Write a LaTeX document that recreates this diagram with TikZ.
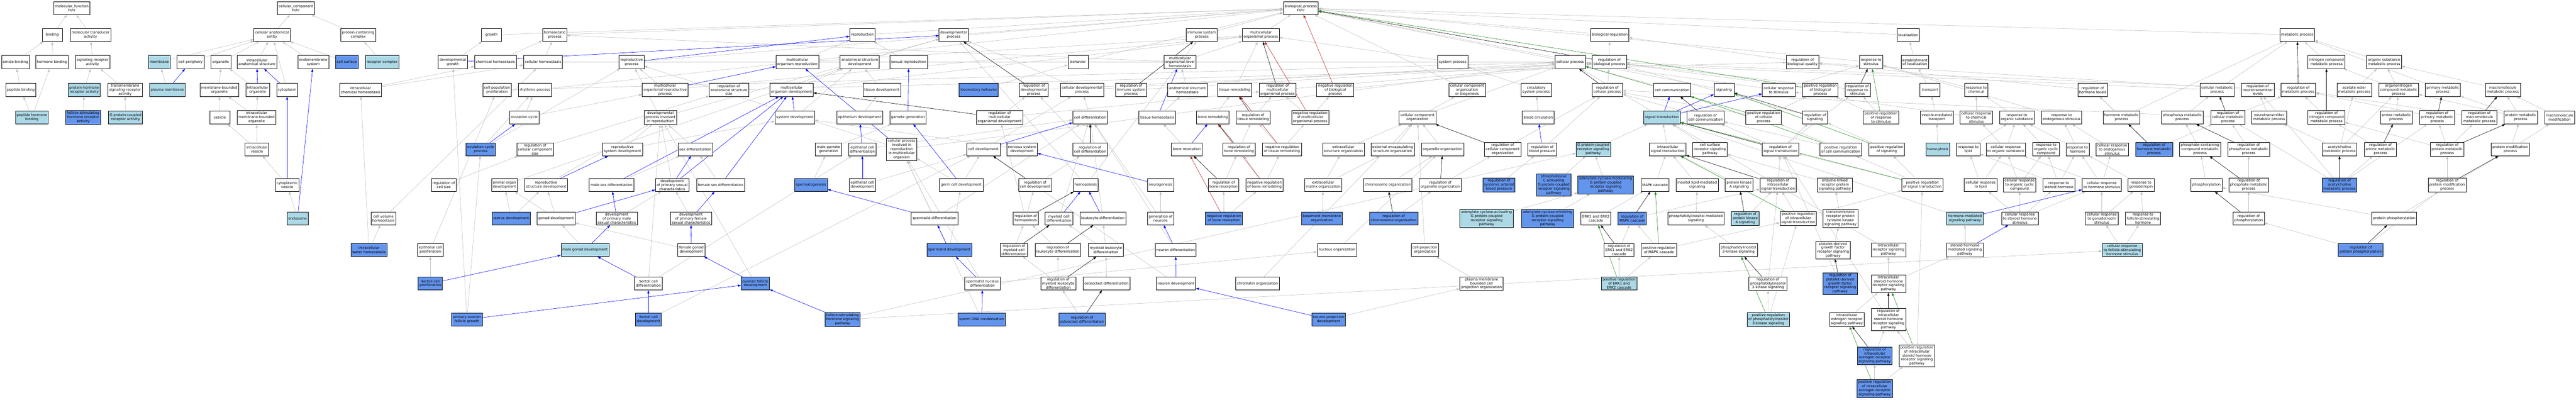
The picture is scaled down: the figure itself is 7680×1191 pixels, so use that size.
\documentclass[tikz,border=0pt]{standalone}
\usepackage{fontspec}
\setmainfont{DejaVu Sans}
\usetikzlibrary{arrows.meta,backgrounds}
\definecolor{lb}{HTML}{ADD8E6}
\definecolor{cb}{HTML}{6495ED}
\definecolor{edgegray}{HTML}{C0C0C0}
\definecolor{fgreen}{HTML}{228B22}
\definecolor{fred}{HTML}{B22222}
\newcommand{\termfont}{\fontsize{10.5bp}{12.2bp}\selectfont}

\begin{document}
\begin{tikzpicture}[x=1bp, y=-1bp, >={Triangle[length=9bp,width=6.5bp]},
	term/.style={draw, line width=1.1bp, fill=white, align=center, inner xsep=4bp, inner ysep=3bp, minimum width=60bp, minimum height=39bp, font=\termfont},
	lbterm/.style={term, fill=lb},
	cbterm/.style={term, fill=cb},
	isa/.style={draw=edgegray, line width=0.9bp, ->},
	partof/.style={draw=blue, line width=0.9bp, ->},
	reg/.style={draw=black, line width=0.9bp, ->},
	negreg/.style={draw=fred, line width=0.9bp, ->},
	posreg/.style={draw=fgreen, line width=0.9bp, ->}]
	\useasboundingbox (0,0) rectangle (7680,1191);

	\node[term] (mf) at (214,24) {molecular\_function\\Fshr};
	\node[term] (cc) at (882,24) {cellular\_component\\Fshr};
	\node[term] (bp) at (3878,24) {biological\_process\\Fshr};

	\node[term] (bind) at (156,104) {binding};
	\node[term] (mtact) at (270,104) {molecular transducer\\activity};
	\node[term] (cae) at (811,104) {cellular anatomical\\entity};
	\node[term] (pcc) at (1068,104) {protein-containing\\complex};
	\node[term] (growth) at (1465,104) {growth};
	\node[term] (homeo) at (1654,104) {homeostatic\\process};
	\node[term] (repro) at (2571,104) {reproduction};
	\node[term] (devp) at (2843,104) {developmental\\process};
	\node[term] (immsp) at (3583,104) {immune system\\process};
	\node[term] (mcop) at (3759,104) {multicellular\\organismal process};
	\node[term] (bioreg) at (4799,104) {biological regulation};
	\node[term] (locz) at (5689,104) {localization};
	\node[term] (metp) at (6849,104) {metabolic process};

	\node[term] (amideb) at (46,185) {amide binding};
	\node[term] (hormb) at (155,185) {hormone binding};
	\node[term] (sigrec) at (276,185) {signaling receptor\\activity};
	\node[lbterm] (memb) at (475,185) {membrane};
	\node[term] (cperi) at (568,185) {cell periphery};
	\node[term] (orgnl) at (658,185) {organelle};
	\node[term] (ias) at (766,185) {intracellular\\anatomical structure};
	\node[term] (endom) at (934,185) {endomembrane\\system};
	\node[cbterm] (csurf) at (1034,185) {cell surface};
	\node[lbterm] (reccx) at (1139,185) {receptor complex};
	\node[term] (devgr) at (1350,185) {developmental\\growth};
	\node[term] (chemh) at (1477,185) {chemical homeostasis};
	\node[term] (cellh) at (1619,185) {cellular homeostasis};
	\node[term] (reprp) at (1883,185) {reproductive\\process};
	\node[term] (mcorep) at (2377,185) {multicellular\\organism reproduction};
	\node[term] (asdev) at (2563,185) {anatomical structure\\development};
	\node[term] (sexrep) at (2709,185) {sexual reproduction};
	\node[term] (behav) at (3214,185) {behavior};
	\node[term] (mcolh) at (3518,185) {multicellular\\organismal-level\\homeostasis};
	\node[term] (sysp) at (4331,185) {system process};
	\node[term] (cellp) at (4681,185) {cellular process};
	\node[term] (regbp) at (4798,185) {regulation of\\biological process};
	\node[term] (regbq) at (5374,185) {regulation of\\biological quality};
	\node[term] (resst) at (5578,185) {response to\\stimulus};
	\node[term] (estloc) at (5709,185) {establishment\\of localization};
	\node[term] (ncmp) at (6936,185) {nitrogen compound\\metabolic process};
	\node[term] (osmp) at (7108,185) {organic substance\\metabolic process};

	\node[term] (pepb) at (62,268) {peptide binding};
	\node[lbterm] (phrec) at (251,268) {protein-hormone\\receptor activity};
	\node[term] (tmsig) at (373,268) {transmembrane\\signaling receptor\\activity};
	\node[lbterm] (pmem) at (499,268) {plasma membrane};
	\node[term] (mbo) at (654,268) {membrane-bounded\\organelle};
	\node[term] (iorg) at (768,268) {intracellular\\organelle};
	\node[term] (cyto) at (856,268) {cytoplasm};
	\node[term] (icchem) at (1075,268) {intracellular\\chemical homeostasis};
	\node[term] (cpprol) at (1482,268) {cell population\\proliferation};
	\node[term] (rhyth) at (1595,268) {rhythmic process};
	\node[term] (morp) at (1983,268) {multicellular\\organismal reproductive\\process};
	\node[term] (regass) at (2173,268) {regulation of\\anatomical structure\\size};
	\node[term] (mcodev) at (2360,268) {multicellular\\organism development};
	\node[term] (tisdev) at (2629,268) {tissue development};
	\node[cbterm] (locob) at (2918,268) {locomotory behavior};
	\node[term] (regdev) at (3082,268) {regulation of\\developmental\\process};
	\node[term] (celldevp) at (3226,268) {cellular developmental\\process};
	\node[term] (regimm) at (3372,268) {regulation of\\immune system\\process};
	\node[term] (ashom) at (3540,268) {anatomical structure\\homeostasis};
	\node[term] (tisrem) at (3681,268) {tissue remodeling};
	\node[term] (regmcop) at (3809,268) {regulation of\\multicellular\\organismal process};
	\node[term] (negbp) at (3981,268) {negative regulation\\of biological\\process};
	\node[term] (ccob) at (4374,268) {cellular component\\organization\\or biogenesis};
	\node[term] (circsp) at (4580,268) {circulatory\\system process};
	\node[term] (regcp) at (4792,268) {regulation of\\cellular process};
	\node[term] (ccomm) at (4985,268) {cell communication};
	\node[term] (signl) at (5140,268) {signaling};
	\node[term] (crstim) at (5303,268) {cellular response\\to stimulus};
	\node[term] (posbp) at (5427,268) {positive regulation\\of biological\\process};
	\node[term] (regrst) at (5538,268) {regulation of\\response to\\stimulus};
	\node[term] (transp) at (5754,268) {transport};
	\node[term] (rchem) at (5892,268) {response to\\chemical};
	\node[term] (reghl) at (6239,268) {regulation of\\hormone levels};
	\node[term] (cmetp) at (6610,268) {cellular metabolic\\process};
	\node[term] (regntl) at (6731,268) {regulation of\\neurotransmitter\\levels};
	\node[term] (regmetp) at (6852,268) {regulation of\\metabolic process};
	\node[term] (aemp) at (7019,268) {acetate ester\\metabolic process};
	\node[term] (oncmp) at (7151,268) {organonitrogen\\compound metabolic\\process};
	\node[term] (pmetp) at (7283,268) {primary metabolic\\process};
	\node[term] (mmetp) at (7462,268) {macromolecule\\metabolic process};

	\node[lbterm] (phb) at (95,350) {peptide hormone\\binding};
	\node[cbterm] (fshra) at (248,350) {follicle-stimulating\\hormone receptor\\activity};
	\node[lbterm] (gpcra) at (374,350) {G protein-coupled\\receptor activity};
	\node[term] (vesic) at (655,350) {vesicle};
	\node[term] (imbo) at (765,350) {intracellular\\membrane-bounded\\organelle};
	\node[term] (ovcyc) at (1563,350) {ovulation cycle};
	\node[term] (dpir) at (1969,350) {developmental\\process involved\\in reproduction};
	\node[term] (sysdev) at (2370,350) {system development};
	\node[term] (epidev) at (2563,350) {epithelium development};
	\node[term] (gamgen) at (2707,350) {gamete generation};
	\node[term] (regmod) at (2980,350) {regulation of\\multicellular\\organismal development};
	\node[term] (celldiff) at (3250,350) {cell differentiation};
	\node[term] (tishom) at (3450,350) {tissue homeostasis};
	\node[term] (bonerem) at (3616,350) {bone remodeling};
	\node[term] (regtr) at (3736,350) {regulation of\\tissue remodeling};
	\node[term] (negmcop) at (3906,350) {negative regulation\\of multicellular\\organismal process};
	\node[term] (cco) at (4226,350) {cellular component\\organization};
	\node[term] (bcirc) at (4586,350) {blood circulation};
	\node[lbterm] (sigtr) at (4955,350) {signal transduction};
	\node[term] (regcc) at (5085,350) {regulation of\\cell communication};
	\node[term] (poscp) at (5258,350) {positive regulation\\of cellular\\process};
	\node[term] (regsig) at (5411,350) {regulation of\\signaling};
	\node[term] (posrst) at (5608,350) {positive regulation\\of response\\to stimulus};
	\node[term] (vmt) at (5774,350) {vesicle-mediated\\transport};
	\node[term] (crchem) at (5892,350) {cellular response\\to chemical\\stimulus};
	\node[term] (rorg) at (6013,350) {response to\\organic substance};
	\node[term] (rendo) at (6146,350) {response to\\endogenous stimulus};
	\node[term] (hmetp) at (6325,350) {hormone metabolic\\process};
	\node[term] (phmetp) at (6506,350) {phosphorus metabolic\\process};
	\node[term] (regcmp) at (6642,350) {regulation of\\cellular metabolic\\process};
	\node[term] (ntmetp) at (6765,350) {neurotransmitter\\metabolic process};
	\node[term] (regncmp) at (6936,350) {regulation of\\nitrogen compound\\metabolic process};
	\node[term] (aminmp) at (7144,350) {amine metabolic\\process};
	\node[term] (regpmp) at (7266,350) {regulation of\\primary metabolic\\process};
	\node[term] (regmmp) at (7392,350) {regulation of\\macromolecule\\metabolic process};
	\node[term] (protmp) at (7515,350) {protein metabolic\\process};
	\node[term] (mmod) at (7631,350) {macromolecule\\modification};

	\node[term] (ives) at (766,445) {intracellular\\vesicle};
	\node[cbterm] (ovcp) at (1433,445) {ovulation cycle\\process};
	\node[term] (regccs) at (1595,445) {regulation of\\cellular component\\size};
	\node[term] (rsd) at (1856,445) {reproductive\\system development};
	\node[term] (sexdiff) at (2073,445) {sex differentiation};
	\node[term] (mgg) at (2470,445) {male gamete\\generation};
	\node[term] (ecd) at (2571,445) {epithelial cell\\differentiation};
	\node[term] (cpirmo) at (2688,445) {cellular process\\involved in\\reproduction\\in multicellular\\organism};
	\node[term] (celldev) at (2932,445) {cell development};
	\node[term] (nsd) at (3047,445) {nervous system\\development};
	\node[term] (regcd) at (3250,445) {regulation of\\cell differentiation};
	\node[term] (boneres) at (3538,445) {bone resorption};
	\node[term] (regbr) at (3694,445) {regulation of\\bone remodeling};
	\node[term] (negtr) at (3822,445) {negative regulation\\of tissue remodeling};
	\node[term] (exso) at (4005,445) {extracellular\\structure organization};
	\node[term] (eeso) at (4152,445) {external encapsulating\\structure organization};
	\node[term] (orgorg) at (4301,445) {organelle organization};
	\node[term] (regcco) at (4480,445) {regulation of\\cellular component\\organization};
	\node[term] (regbpr) at (4598,445) {regulation of\\blood pressure};
	\node[lbterm] (gpcrsp) at (4750,445) {G protein-coupled\\receptor signaling\\pathway};
	\node[term] (ist) at (4972,445) {intracellular\\signal transduction};
	\node[term] (csrsp) at (5098,445) {cell surface\\receptor signaling\\pathway};
	\node[term] (regst) at (5308,445) {regulation of\\signal transduction};
	\node[term] (poscc) at (5488,445) {positive regulation\\of cell communication};
	\node[term] (possig) at (5625,445) {positive regulation\\of signaling};
	\node[lbterm] (transc) at (5777,445) {transcytosis};
	\node[term] (rlip) at (5868,445) {response to\\lipid};
	\node[term] (crorg) at (5980,445) {cellular response\\to organic substance};
	\node[term] (rocc) at (6100,445) {response to\\organic cyclic\\compound};
	\node[term] (rhorm) at (6194,445) {response to\\hormone};
	\node[term] (crendo) at (6297,445) {cellular response\\to endogenous\\stimulus};
	\node[cbterm] (reghmp) at (6422,445) {regulation of\\hormone metabolic\\process};
	\node[term] (pccmp) at (6559,445) {phosphate-containing\\compound metabolic\\process};
	\node[term] (regphmp) at (6704,445) {regulation of\\phosphorus metabolic\\process};
	\node[term] (achmp) at (6975,445) {acetylcholine\\metabolic process};
	\node[term] (regamp) at (7097,445) {regulation of\\amine metabolic\\process};
	\node[term] (regprmp) at (7296,445) {regulation of\\protein metabolic\\process};
	\node[term] (pmodp) at (7484,445) {protein modification\\process};

	\node[term] (cves) at (856,551) {cytoplasmic\\vesicle};
	\node[term] (regcs) at (1323,551) {regulation of\\cell size};
	\node[term] (aodev) at (1504,551) {animal organ\\development};
	\node[term] (rstdev) at (1628,551) {reproductive\\structure development};
	\node[term] (msd) at (1823,551) {male sex differentiation};
	\node[term] (dpsc) at (2004,551) {development\\of primary sexual\\characteristics};
	\node[term] (fsd) at (2148,551) {female sex differentiation};
	\node[cbterm] (sperm) at (2418,551) {spermatogenesis};
	\node[term] (ecdev) at (2571,551) {epithelial cell\\development};
	\node[term] (gcdev) at (2866,551) {germ cell development};
	\node[term] (regcdev) at (3086,551) {regulation of\\cell development};
	\node[term] (hemop) at (3237,551) {hemopoiesis};
	\node[term] (neurog) at (3460,551) {neurogenesis};
	\node[term] (regbres) at (3648,551) {regulation of\\bone resorption};
	\node[term] (negbrem) at (3770,551) {negative regulation\\of bone remodeling};
	\node[term] (ecmo) at (3945,551) {extracellular\\matrix organization};
	\node[term] (chro) at (4137,551) {chromosome organization};
	\node[term] (regoo) at (4294,551) {regulation of\\organelle organization};
	\node[cbterm] (regsabp) at (4469,551) {regulation of\\systemic arterial\\blood pressure};
	\node[cbterm] (plcgp) at (4632,551) {phospholipase\\C-activating\\G protein-coupled\\receptor signaling\\pathway};
	\node[cbterm] (acmgp) at (4787,551) {adenylate cyclase-modulating\\G protein-coupled\\receptor signaling\\pathway};
	\node[term] (mapk) at (4934,551) {MAPK cascade};
	\node[term] (ilms) at (5060,551) {inositol lipid-mediated\\signaling};
	\node[term] (pkas) at (5185,551) {protein kinase\\A signaling};
	\node[term] (regist) at (5301,551) {regulation of\\intracellular\\signal transduction};
	\node[term] (elrp) at (5470,551) {enzyme-linked\\receptor protein\\signaling pathway};
	\node[term] (posst) at (5731,551) {positive regulation\\of signal transduction};
	\node[term] (crlip) at (5905,551) {cellular response\\to lipid};
	\node[term] (crocc) at (6021,551) {cellular response\\to organic cyclic\\compound};
	\node[term] (rsth) at (6138,551) {response to\\steroid hormone};
	\node[term] (crhs) at (6266,551) {cellular response\\to hormone stimulus};
	\node[term] (rgon) at (6383,551) {response to\\gonadotropin};
	\node[term] (phos) at (6578,551) {phosphorylation};
	\node[term] (regphtmp) at (6704,551) {regulation of\\phosphate metabolic\\process};
	\node[cbterm] (regachmp) at (6975,551) {regulation of\\acetylcholine\\metabolic process};
	\node[term] (regpmod) at (7296,551) {regulation of\\protein modification\\process};

	\node[lbterm] (endos) at (887,651) {endosome};
	\node[term] (cvolh) at (1143,651) {cell volume\\homeostasis};
	\node[cbterm] (uterus) at (1524,651) {uterus development};
	\node[term] (gonad) at (1658,651) {gonad development};
	\node[term] (dpmsc) at (1839,651) {development\\of primary male\\sexual characteristics};
	\node[term] (dpfsc) at (2060,651) {development\\of primary female\\sexual characteristics};
	\node[term] (sptdiff) at (2786,651) {spermatid differentiation};
	\node[term] (reghem) at (3058,651) {regulation of\\hemopoiesis};
	\node[term] (mcd) at (3157,651) {myeloid cell\\differentiation};
	\node[term] (leukd) at (3288,651) {leukocyte differentiation};
	\node[term] (genneu) at (3460,651) {generation of\\neurons};
	\node[cbterm] (negbres) at (3649,651) {negative regulation\\of bone resorption};
	\node[cbterm] (bmo) at (3941,651) {basement membrane\\organization};
	\node[cbterm] (regchro) at (4155,651) {regulation of\\chromosome organization};
	\node[lbterm] (acagp) at (4432,651) {adenylate cyclase-activating\\G protein-coupled\\receptor signaling\\pathway};
	\node[cbterm] (acigp) at (4614,651) {adenylate cyclase-inhibiting\\G protein-coupled\\receptor signaling\\pathway};
	\node[term] (erk) at (4758,651) {ERK1 and ERK2\\cascade};
	\node[cbterm] (regmapk) at (4866,651) {regulation of\\MAPK cascade};
	\node[term] (pims) at (5056,651) {phosphatidylinositol-mediated\\signaling};
	\node[lbterm] (regpka) at (5203,651) {regulation of\\protein kinase\\A signaling};
	\node[term] (posist) at (5361,651) {positive regulation\\of intracellular\\signal transduction};
	\node[term] (rtkp) at (5487,651) {transmembrane\\receptor protein\\tyrosine kinase\\signaling pathway};
	\node[lbterm] (hmsp) at (5858,651) {hormone-mediated\\signaling pathway};
	\node[term] (crsh) at (6022,651) {cellular response\\to steroid hormone\\stimulus};
	\node[term] (crgon) at (6266,651) {cellular response\\to gonadotropin\\stimulus};
	\node[term] (rfsh) at (6389,651) {response to\\follicle-stimulating\\hormone};
	\node[term] (regphos) at (6704,651) {regulation of\\phosphorylation};
	\node[term] (pphos) at (7138,651) {protein phosphorylation};

	\node[cbterm] (iwath) at (1100,745) {intracellular\\water homeostasis};
	\node[term] (epiprol) at (1283,745) {epithelial cell\\proliferation};
	\node[lbterm] (mgd) at (1744,745) {male gonad development};
	\node[term] (fgd) at (2061,745) {female gonad\\development};
	\node[cbterm] (sptdev) at (2830,745) {spermatid development};
	\node[term] (regmcd) at (3023,745) {regulation of\\myeloid cell\\differentiation};
	\node[term] (regld) at (3154,745) {regulation of\\leukocyte differentiation};
	\node[term] (mld) at (3297,745) {myeloid leukocyte\\differentiation};
	\node[term] (neud) at (3505,745) {neuron differentiation};
	\node[term] (nucorg) at (3986,745) {nucleus organization};
	\node[term] (cpo) at (4248,745) {cell projection\\organization};
	\node[term] (regerk) at (4827,745) {regulation of\\ERK1 and ERK2\\cascade};
	\node[term] (posmapk) at (4946,745) {positive regulation\\of MAPK cascade};
	\node[term] (pi3k) at (5183,745) {phosphatidylinositol\\3-kinase signaling};
	\node[term] (pdgf) at (5465,745) {platelet-derived\\growth factor\\receptor signaling\\pathway};
	\node[term] (irsp) at (5630,745) {intracellular\\receptor signaling\\pathway};
	\node[term] (shmsp) at (5858,745) {steroid hormone\\mediated signaling\\pathway};
	\node[lbterm] (crfsh) at (6327,745) {cellular response\\to follicle-stimulating\\hormone stimulus};
	\node[cbterm] (regpphos) at (7038,745) {regulation of\\protein phosphorylation};

	\node[cbterm] (sertprol) at (1283,845) {Sertoli cell\\proliferation};
	\node[term] (scd) at (1933,845) {Sertoli cell\\differentiation};
	\node[cbterm] (ofd) at (2252,845) {ovarian follicle\\development};
	\node[term] (sndiff) at (2929,845) {spermatid nucleus\\differentiation};
	\node[term] (regmld) at (3155,845) {regulation of\\myeloid leukocyte\\differentiation};
	\node[term] (ocd) at (3299,845) {osteoclast differentiation};
	\node[term] (neudev) at (3506,845) {neuron development};
	\node[term] (chrmo) at (3749,845) {chromatin organization};
	\node[term] (pmbcpo) at (4417,845) {plasma membrane\\bounded cell\\projection organization};
	\node[lbterm] (poserk) at (4827,845) {positive regulation\\of ERK1 and\\ERK2 cascade};
	\node[term] (regpi3k) at (5271,845) {regulation of\\phosphatidylinositol\\3-kinase signaling};
	\node[cbterm] (regpdgf) at (5486,845) {regulation of\\platelet-derived\\growth factor\\receptor signaling\\pathway};
	\node[term] (ishrsp) at (5630,845) {intracellular\\steroid hormone\\receptor signaling\\pathway};

	\node[cbterm] (pofg) at (1392,952) {primary ovarian\\follicle growth};
	\node[cbterm] (scdev) at (1933,952) {Sertoli cell\\development};
	\node[cbterm] (fshsp) at (2512,952) {follicle-stimulating\\hormone signaling\\pathway};
	\node[cbterm] (spdna) at (2927,952) {sperm DNA condensation};
	\node[cbterm] (regocd) at (3226,952) {regulation of\\osteoclast differentiation};
	\node[cbterm] (npd) at (3961,952) {neuron projection\\development};
	\node[lbterm] (pospi3k) at (5272,952) {positive regulation\\of phosphatidylinositol\\3-kinase signaling};
	\node[term] (ierp) at (5506,952) {intracellular\\estrogen receptor\\signaling pathway};
	\node[term] (regishr) at (5630,952) {regulation of\\intracellular\\steroid hormone\\receptor signaling\\pathway};

	\node[cbterm] (regierp) at (5589,1060) {regulation of\\intracellular\\estrogen receptor\\signaling pathway};
	\node[term] (posishr) at (5715,1060) {positive regulation\\of intracellular\\steroid hormone\\receptor signaling\\pathway};
	\node[cbterm] (posierp) at (5589,1158) {positive regulation\\of intracellular\\estrogen receptor\\signaling pathway};

	\begin{scope}[on background layer]
	\fill[white] (0,0) rectangle (7680,1191);
	\foreach \a/\b in {bind/mf, mtact/mf, amideb/bind, hormb/bind, sigrec/mtact, pepb/amideb, phb/pepb, phb/hormb, phrec/sigrec, tmsig/sigrec, fshra/phrec, gpcra/tmsig,
		cae/cc, pcc/cc, memb/cae, cperi/cae, orgnl/cae, ias/cae, cyto/cae, endom/cae, csurf/cae, reccx/pcc, pmem/memb, mbo/orgnl, iorg/orgnl, vesic/mbo, imbo/mbo, imbo/iorg, ives/vesic, ives/imbo, cves/ives, endos/cves,
		growth/bp, homeo/bp, repro/bp, devp/bp, immsp/bp, mcop/bp, bioreg/bp, locz/bp, metp/bp, behav/bp, reprp/bp, cellp/bp, resst/bp, rhyth/bp, signl/bp, ccob/bp,
		devgr/growth, chemh/homeo, cellh/homeo, cellh/cellp, mcorep/repro, mcorep/mcop, asdev/devp, sexrep/repro,
		cpprol/cellp, morp/reprp, morp/mcop, regass/regbq, mcodev/asdev, mcodev/mcop, tisdev/asdev, locob/behav, regdev/regbp, celldevp/devp, celldevp/cellp, regimm/regbp,
		mcolh/homeo, mcolh/mcop, ashom/mcolh, tisrem/mcop, regmcop/regbp, negbp/regbp, sysp/mcop,
		ovcyc/rhyth, ovcyc/morp, dpir/reprp, dpir/devp, sysdev/asdev, epidev/tisdev, regmod/regdev, regmod/regmcop, celldiff/celldevp, tishom/ashom, bonerem/tisrem, regtr/regmcop, negmcop/regmcop, negmcop/negbp, cco/ccob, cco/cellp,
		ovcp/rhyth, ovcp/reprp, regccs/regass, rsd/sysdev, rsd/dpir, sexdiff/dpir, mgg/gamgen, ecd/celldiff, cpirmo/reprp, cpirmo/cellp, celldev/celldevp, nsd/sysdev, regcd/regdev,
		boneres/tishom, regbr/regtr, negtr/regtr, negtr/negmcop, exso/cco, eeso/cco, orgorg/cco, regcco/regcp,
		regcs/regccs, aodev/asdev, rstdev/dpir, msd/sexdiff, dpsc/dpir, fsd/sexdiff, sperm/mgg, ecdev/celldev, gcdev/celldev, gcdev/cpirmo, regcdev/regcd, hemop/immsp, hemop/devp,
		regbres/regbr, negbrem/regbr, negbrem/negtr, ecmo/exso, ecmo/eeso, chro/orgorg, regoo/regcco, regsabp/regbpr,
		uterus/aodev, uterus/rstdev, gonad/aodev, gonad/rstdev, dpmsc/dpsc, dpfsc/dpsc, sptdiff/cpirmo, sptdiff/celldiff, reghem/regcdev, reghem/regmod, mcd/celldiff, leukd/celldiff, genneu/neurog, genneu/celldiff,
		negbres/regbres, negbres/negbrem, bmo/ecmo, regchro/regoo, acagp/acmgp,
		mgd/gonad, fgd/gonad, epiprol/cpprol, iwath/cvolh, iwath/icchem, icchem/chemh, icchem/cellh, cvolh/cellh, sptdev/gcdev, regmcd/reghem, regld/reghem, mld/mcd, mld/leukd, neud/celldiff, nucorg/orgorg, cpo/cco,
		sertprol/epiprol, scd/ecd, scd/dpir, ofd/dpir, sndiff/nucorg, sndiff/cpirmo, regmld/regld, regmld/regmcd, ocd/mld, neudev/celldev, chrmo/cco, pmbcpo/cpo,
		pofg/devgr, pofg/ovcp, scdev/celldev, fshsp/gpcrsp, fshsp/crfsh, spdna/cpirmo, regocd/regmld, npd/pmbcpo}
	\draw[isa] (\a) -- (\b);
	\foreach \a/\b in {regbp/bioreg, regbq/bioreg, circsp/sysp, regcp/regbp, ccomm/cellp, crstim/resst, crstim/cellp, posbp/regbp, regrst/regbp, bcirc/circsp, sigtr/cellp,
		regcc/regcp, poscp/regcp, poscp/posbp, regsig/regbp, posrst/regrst, posrst/posbp, regbpr/regcp,
		gpcrsp/sigtr, ist/sigtr, csrsp/sigtr, regst/regsig, regst/regcc, regst/regrst, poscc/regcc, poscc/poscp, possig/regsig,
		plcgp/gpcrsp, acmgp/gpcrsp, mapk/ist, ilms/ist, pkas/ist, regist/regst, elrp/csrsp, posst/regst, posst/possig, posst/poscc,
		acigp/acmgp, erk/mapk, regmapk/regist, pims/ilms, regpka/regist, posist/regist, posist/posst, rtkp/elrp,
		regerk/regmapk, posmapk/regmapk, posmapk/posist, pi3k/pims, pdgf/rtkp, irsp/sigtr, poserk/regerk, poserk/posmapk,
		regpi3k/regist, regpdgf/regst, ishrsp/irsp, ishrsp/shmsp, pospi3k/regpi3k, pospi3k/posist, ierp/ishrsp, regishr/regst,
		regierp/regishr, posishr/regishr, posishr/posst, posierp/regierp, posierp/posishr, hmsp/sigtr}
	\draw[isa] (\a) -- (\b);
	\foreach \a/\b in {estloc/locz, transp/estloc, rchem/resst, reghl/regbq, cmetp/metp, cmetp/cellp, regntl/regbq, vmt/transp, crchem/rchem, crchem/crstim, rorg/rchem, rendo/resst,
		hmetp/reghl, hmetp/metp, phmetp/cmetp, regcmp/regmetp, regcmp/regcp, ntmetp/regntl, regncmp/regmetp, aminmp/oncmp, regpmp/regmetp, regmmp/regmetp,
		protmp/mmetp, protmp/oncmp, protmp/pmetp, mmod/mmetp, ncmp/metp, osmp/metp, oncmp/ncmp, oncmp/osmp, aemp/osmp, pmetp/metp, mmetp/osmp, regmetp/regbp,
		transc/vmt, rlip/rorg, crorg/rorg, crorg/crchem, rocc/rorg, rhorm/rorg, rhorm/rendo, crendo/rendo, reghmp/reghl, reghmp/regcmp, pccmp/phmetp, regphmp/regcmp,
		achmp/aemp, achmp/ntmetp, achmp/oncmp, regamp/regncmp, regprmp/regmmp, regprmp/regpmp, regprmp/regncmp, pmodp/protmp, pmodp/mmod,
		crlip/rlip, crlip/crorg, crocc/rocc, crocc/crorg, rsth/rhorm, rsth/rlip, rsth/rocc, crhs/rhorm, crhs/crendo, crhs/crorg, rgon/rhorm, phos/pccmp, regphtmp/regphmp,
		regachmp/regamp, regachmp/regntl, regachmp/regpmp, regachmp/regcmp, regpmod/regprmp,
		crsh/rsth, crsh/crhs, crsh/crlip, crsh/crocc, crgon/crhs, crgon/rgon, rfsh/rgon, regphos/regphtmp, pphos/phos, pphos/pmodp, shmsp/hmsp, crfsh/crgon, crfsh/rfsh, regpphos/regphos, regpphos/regpmod}
	\draw[isa] (\a) -- (\b);
	\foreach \a/\b in {pmem/cperi, iorg/ias, cyto/ias, cves/cyto, endos/endom,
		devgr/devp, reprp/repro, morp/mcorep, sysdev/mcodev, gamgen/sexrep, cpirmo/mcorep, regbpr/bcirc, tishom/mcolh, ovcp/ovcyc, ecd/epidev, celldev/celldiff, boneres/bonerem,
		rstdev/rsd, msd/mcodev, dpsc/sexdiff, dpsc/mcodev, fsd/mcodev, ecdev/ecd, gcdev/gamgen, neurog/nsd, gonad/dpsc, dpmsc/msd, dpfsc/fsd, sptdiff/sperm, mcd/hemop, leukd/hemop,
		mgd/dpmsc, fgd/dpfsc, sptdev/sptdiff, neud/genneu, sertprol/mgd, scd/mgd, ofd/fgd, sndiff/sptdev, neudev/neud, pofg/ofd, scdev/scd, fshsp/ofd, spdna/sndiff, npd/neudev,
		sigtr/ccomm, sigtr/signl, sigtr/crstim, hmsp/crhs, shmsp/crsh}
	\draw[partof] (\a) -- (\b);
	\foreach \a/\b in {regdev/devp, regimm/immsp, regmod/mcodev, regcd/celldiff, regcdev/celldev, reghem/hemop, regmcd/mcd, regld/leukd, regmld/mld, regocd/ocd,
		regtr/tisrem, regbr/bonerem, regbres/boneres, regmcop/mcop, regcco/cco, regoo/orgorg, regchro/chro, regbp/bp, regcp/cellp, regcc/ccomm, regsig/signl, regrst/resst,
		regst/sigtr, regist/ist, regmapk/mapk, regerk/erk, regpka/pkas, regpi3k/pi3k, regpdgf/pdgf, regishr/ishrsp, regierp/ierp,
		regcmp/cmetp, regmetp/metp, regncmp/ncmp, regpmp/pmetp, regmmp/mmetp, reghmp/hmetp, regphmp/phmetp, regphtmp/pccmp, regamp/aminmp, regprmp/protmp,
		regachmp/achmp, regpmod/pmodp, regphos/phos, regpphos/pphos}
	\draw[reg] (\a) -- (\b);
	\foreach \a/\b in {negbp/bp, negmcop/mcop, negtr/tisrem, negbrem/bonerem, negbres/boneres}
	\draw[negreg] (\a) -- (\b);
	\foreach \a/\b in {posbp/bp, poscp/cellp, posrst/resst, poscc/ccomm, possig/signl, posst/sigtr, posist/ist, posmapk/mapk, poserk/erk, pospi3k/pi3k, posishr/ishrsp, posierp/ierp}
	\draw[posreg] (\a) -- (\b);
	\end{scope}
\end{tikzpicture}
\end{document}
